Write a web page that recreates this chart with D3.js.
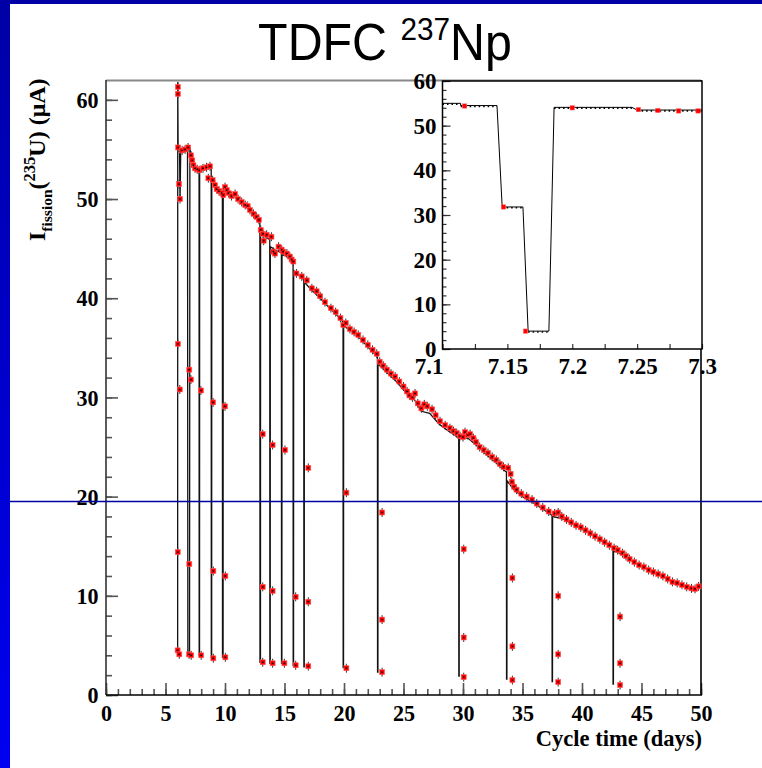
<!DOCTYPE html>
<html><head><meta charset="utf-8">
<script src="https://cdn.jsdelivr.net/npm/d3@7"></script>
<style>body{margin:0;background:#fff;} svg{display:block}</style>
</head><body>
<script>
// ---------- DATA ----------
const pointDays = [
 6.02,6.03,6.04,6.04,6.04,6.06,6.14,6.16,6.20,6.22,
 6.40,6.65,6.90,6.98,7.00,7.00,7.14,7.14,7.16,7.25,
 7.35,7.48,7.67,7.85,7.98,8.00,8.15,8.45,8.60,8.74,
 8.96,9.00,9.02,9.02,9.15,9.30,9.50,9.72,9.86,10.00,
 10.00,10.03,10.03,10.15,10.30,10.55,10.85,11.10,11.40,11.70,
 11.90,12.10,12.40,12.65,12.85,13.00,13.17,13.17,13.17,13.20,
 13.25,13.50,13.90,14.00,14.00,14.00,14.06,14.20,14.50,14.76,
 14.90,14.99,15.04,15.20,15.45,15.60,15.74,15.94,15.94,16.00,
 16.45,16.87,17.00,17.00,17.00,17.30,17.70,18.00,18.40,18.90,
 19.30,19.70,19.95,20.15,20.20,20.20,20.50,20.85,21.20,21.60,
 22.00,22.40,22.75,23.00,23.20,23.20,23.20,23.30,23.60,23.95,
 24.30,24.65,25.00,25.30,25.50,25.75,25.97,26.20,26.50,26.75,
 27.00,27.40,27.70,28.07,28.50,28.90,29.20,29.47,29.75,30.00,
 30.06,30.06,30.06,30.17,30.40,30.60,30.87,31.10,31.40,31.75,
 32.10,32.45,32.80,33.10,33.40,33.80,34.00,34.10,34.15,34.15,
 34.15,34.30,34.50,34.90,35.35,35.80,36.20,36.70,37.20,37.70,
 38.00,38.00,38.00,38.00,38.30,38.70,39.10,39.50,39.90,40.30,
 40.70,41.10,41.50,41.90,42.30,42.70,43.00,43.20,43.20,43.20,
 43.40,43.70,44.00,44.40,44.80,45.20,45.60,46.00,46.40,46.80,
 47.20,47.60,48.00,48.40,48.80,49.20,49.50,49.80
];
const pointValues = [
 4.5,14.4,35.4,60.6,61.3,55.2,51.5,4.1,30.8,50.0,
 54.9,55.0,55.2,4.1,13.2,32.8,31.8,54.4,4.0,53.9,
 53.4,53.1,53.0,52.9,30.7,4.0,53.1,53.2,52.1,53.3,
 51.9,29.5,12.5,3.7,51.4,51.0,50.8,50.6,50.4,51.2,
 29.1,12.0,3.8,50.9,50.6,50.3,50.5,50.0,49.7,49.4,
 49.3,48.9,48.5,48.2,47.9,46.9,26.3,10.9,3.3,46.5,
 45.8,46.4,46.2,25.2,10.5,3.2,44.7,44.5,45.2,44.9,
 44.7,3.2,24.7,44.5,44.2,43.9,43.7,9.9,3.0,42.5,
 42.2,41.8,22.9,9.4,2.9,41.0,40.7,40.2,39.6,39.0,
 38.6,38.0,37.3,37.5,20.4,2.7,36.9,36.6,36.3,35.8,
 35.3,34.8,34.4,33.6,18.4,7.6,2.3,33.2,32.8,32.4,
 32.1,31.6,31.1,30.6,30.2,30.0,30.4,29.4,28.9,29.3,
 29.1,28.8,28.2,27.6,27.2,26.9,26.6,26.4,26.1,26.0,
 14.7,5.8,1.8,26.5,26.2,26.3,25.9,25.5,25.0,24.7,
 24.4,24.0,23.7,23.3,23.0,22.9,22.3,21.5,11.8,4.9,
 1.5,21.0,20.7,20.3,20.0,19.7,19.3,18.9,18.5,18.3,
 18.4,10.0,4.1,1.3,18.0,17.7,17.4,17.1,16.9,16.6,
 16.3,16.0,15.7,15.4,15.1,14.8,14.6,7.9,3.2,1.0,
 14.3,14.0,13.7,13.4,13.1,12.9,12.6,12.4,12.2,12.0,
 11.7,11.4,11.3,11.1,10.9,10.75,10.7,10.95
];
const lineDays = [
 6.02,6.03,6.06,6.18,6.22,6.28,6.50,6.85,6.88,7.02,
 7.05,7.15,7.35,7.70,7.82,7.83,7.86,7.87,8.30,8.70,
 8.84,8.85,8.88,8.89,9.20,9.50,9.78,9.79,9.84,9.85,
 10.30,10.80,11.30,11.80,12.30,12.70,12.93,12.94,12.98,12.99,
 13.40,13.76,13.77,13.80,13.81,14.30,14.74,14.75,14.78,14.79,
 15.30,15.72,15.73,15.76,15.77,16.20,16.62,16.63,16.66,16.67,
 17.30,18.00,18.70,19.40,19.92,19.93,19.96,19.97,20.60,21.30,
 22.00,22.81,22.82,22.85,22.86,23.60,24.40,25.20,25.90,26.50,
 27.20,28.00,28.80,29.64,29.65,29.68,29.69,30.40,31.20,32.00,
 32.80,33.50,33.65,33.66,33.69,33.70,34.20,35.00,36.00,37.00,
 37.48,37.49,37.52,37.53,38.50,39.50,40.50,41.50,42.60,42.61,
 42.64,42.65,43.50,44.50,45.50,46.50,47.50,48.50,49.30,49.80
];
const lineValues = [
 4.5,61.8,55.3,55.0,49.8,54.8,54.9,55.1,4.1,4.0,
 55.2,54.4,53.3,52.9,52.9,4.0,4.0,52.8,53.0,53.2,
 53.1,3.8,3.8,51.9,51.2,50.7,50.5,3.8,3.8,51.0,
 50.5,50.3,49.7,49.2,48.5,48.0,47.6,3.3,3.3,46.7,
 46.2,45.9,3.2,3.2,45.2,44.8,44.6,3.2,3.2,44.4,
 44.2,43.6,3.0,3.0,42.8,42.3,41.9,2.85,2.85,41.6,
 40.8,40.0,39.1,38.3,37.6,2.75,2.75,37.2,36.7,36.0,
 35.1,34.1,2.3,2.3,33.4,32.5,31.6,30.5,29.8,28.6,
 28.4,27.3,26.6,25.9,1.9,1.9,25.9,25.9,25.1,24.2,
 23.4,22.6,22.5,1.6,1.6,21.6,20.8,20.0,19.3,18.5,
 18.1,1.35,1.35,18.0,17.7,17.0,16.4,15.6,14.8,1.1,
 1.1,14.6,14.1,13.3,12.7,12.1,11.5,11.0,10.7,10.9
];
// inset (zoom on 7.1 - 7.3 days)
const insetLineDays   = [7.100,7.114,7.114,7.142,7.146,7.162,7.166,7.182,7.186,7.246,7.250,7.300];
const insetLineValues = [55.0,55.0,54.5,54.5,31.8,31.8,4.0,4.0,54.1,54.1,53.5,53.5];
const insetDotStart = [7.100,7.114,7.146,7.166,7.186,7.250];
const insetDotEnd   = [7.114,7.142,7.162,7.182,7.246,7.300];
const insetDotValue = [55.0,54.5,31.8,4.0,54.1,53.5];
const insetPointDays   = [7.117,7.147,7.164,7.200,7.251,7.266,7.282,7.297];
const insetPointValues = [54.4,31.8,4.0,54.0,53.6,53.4,53.3,53.3];
// ticks / labels
const xTickValues = [0,5,10,15,20,25,30,35,40,45,50];
const yTickValues = [0,10,20,30,40,50,60];
const insetXTickValues = [7.1,7.15,7.2,7.25,7.3];
const insetXTickLabels = ["7.1","7.15","7.2","7.25","7.3"];
const insetYTickValues = [0,10,20,30,40,50,60];
const titleMain = "TDFC ", titleSup = "237", titleEnd = "Np";
const xTitle = "Cycle time (days)";

// ---------- DRAW ----------
const W = 762, H = 768;
const serif = "'Liberation Serif','Times New Roman',serif";
const sans = "'Liberation Sans',Arial,Helvetica,sans-serif";
const svg = d3.select("body").append("svg").attr("width", W).attr("height", H);
const defs = svg.append("defs");
const grad = defs.append("linearGradient").attr("id","lb").attr("x1",0).attr("y1",0).attr("x2",0).attr("y2",1);
grad.append("stop").attr("offset","0%").attr("stop-color","#0000a6");
grad.append("stop").attr("offset","100%").attr("stop-color","#0000f2");
svg.append("rect").attr("x",0).attr("y",0).attr("width",W).attr("height",H).attr("fill","#fff");
svg.append("rect").attr("x",0).attr("y",0).attr("width",10).attr("height",H).attr("fill","url(#lb)");
svg.append("rect").attr("x",0).attr("y",0).attr("width",W).attr("height",4).attr("fill","#0000a6");

// title
const t = svg.append("text").attr("transform","translate(385,60) scale(0.93,1)")
  .attr("text-anchor","middle").attr("font-family",sans).attr("font-size",52).attr("fill","#000");
t.append("tspan").text(titleMain);
t.append("tspan").attr("font-size",32).attr("dy",-20).text(titleSup);
t.append("tspan").attr("font-size",52).attr("dy",20).text(titleEnd);

// main scales
const x = d3.scaleLinear().domain([0,50]).range([106,701]);
const y = d3.scaleLinear().domain([0,62]).range([695,80]);

function styleAxis(g, labelSize){
  g.select(".domain").remove();
  g.selectAll(".tick line").attr("stroke","#555").attr("stroke-width",1.6);
  g.selectAll(".tick text").attr("font-family",serif).attr("font-weight","bold")
    .attr("font-size",labelSize).attr("fill","#000");
}
// minor ticks
const gxm = svg.append("g").attr("transform","translate(0,695)")
  .call(d3.axisBottom(x).tickValues(d3.range(0,51,1)).tickSize(-6).tickFormat(""));
styleAxis(gxm,21);
const gx = svg.append("g").attr("transform","translate(0,695)")
  .call(d3.axisBottom(x).tickValues(xTickValues).tickSize(-12).tickPadding(9).tickFormat(d3.format("d")));
styleAxis(gx,24);
gx.selectAll(".tick text").attr("transform","scale(0.92,1)");
const gym = svg.append("g").attr("transform","translate(106,0)")
  .call(d3.axisLeft(y).tickValues(d3.range(0,62,2)).tickSize(-6).tickFormat(""));
styleAxis(gym,21);
const gy = svg.append("g").attr("transform","translate(106,0)")
  .call(d3.axisLeft(y).tickValues(yTickValues).tickSize(-12).tickPadding(8).tickFormat(d3.format("d")));
styleAxis(gy,24);
gy.selectAll(".tick text").attr("transform","scale(0.92,1)");

// frame
svg.append("line").attr("x1",106).attr("x2",701).attr("y1",80.5).attr("y2",80.5).attr("stroke","#888").attr("stroke-width",2);
svg.append("line").attr("x1",106).attr("x2",106).attr("y1",80).attr("y2",695).attr("stroke","#333").attr("stroke-width",1.6);
svg.append("line").attr("x1",106).attr("x2",702).attr("y1",695).attr("y2",695).attr("stroke","#000").attr("stroke-width",1.6);
svg.append("line").attr("x1",701).attr("x2",701).attr("y1",80).attr("y2",695).attr("stroke","#000").attr("stroke-width",1.6);

// main line
const lineData = lineDays.map((d,i)=>[d,lineValues[i]]);
svg.append("path").datum(lineData)
  .attr("d", d3.line().x(d=>x(d[0])).y(d=>y(d[1])))
  .attr("fill","none").attr("stroke","#111").attr("stroke-width",1.3);

// main points with error bars
const pts = pointDays.map((d,i)=>[d,pointValues[i]]);
const pg = svg.append("g");
pg.selectAll("line.err").data(pts).join("line").attr("class","err")
  .attr("x1",d=>x(d[0])).attr("x2",d=>x(d[0]))
  .attr("y1",d=>y(d[1]+0.45)).attr("y2",d=>y(d[1]-0.45))
  .attr("stroke","#333").attr("stroke-width",1);
pg.selectAll("rect.m").data(pts).join("rect").attr("class","m")
  .attr("x",d=>x(d[0])-2.5).attr("y",d=>y(d[1])-2.5).attr("width",5).attr("height",5)
  .attr("fill","#ff0000").attr("stroke","#ff6060").attr("stroke-width",0.6);
pg.selectAll("rect.c").data(pts).join("rect").attr("class","c")
  .attr("x",d=>x(d[0])-0.75).attr("y",d=>y(d[1])-0.75).attr("width",1.5).attr("height",1.5)
  .attr("fill","#000");

// axis titles
svg.append("text").attr("x",702).attr("y",746).attr("text-anchor","end")
  .attr("font-family",serif).attr("font-weight","bold").attr("font-size",22.5).text(xTitle);
const yt = svg.append("text").attr("transform","translate(45,241) rotate(-90)")
  .attr("font-family",serif).attr("font-weight","bold").attr("font-size",24).attr("fill","#000");
yt.append("tspan").text("I");
yt.append("tspan").attr("font-size",15.5).attr("dy",7).text("fission");
yt.append("tspan").attr("font-size",24).attr("dy",-7).text("(");
yt.append("tspan").attr("font-size",16.5).attr("dy",-10).text("235");
yt.append("tspan").attr("font-size",24).attr("dy",10).text("U) (\u03bcA)");

// ---------- INSET ----------
const xi = d3.scaleLinear().domain([7.1,7.3]).range([442.5,702]);
const yi = d3.scaleLinear().domain([0,60]).range([349,81]);
svg.append("rect").attr("x",442.5).attr("y",81).attr("width",259.5).attr("height",268).attr("fill","#fff");
const gixm = svg.append("g").attr("transform","translate(0,349)")
  .call(d3.axisBottom(xi).tickValues([7.1,7.125,7.15,7.175,7.2,7.225,7.25,7.275,7.3]).tickSize(-5).tickFormat(""));
styleAxis(gixm,20);
gixm.selectAll(".tick line").attr("stroke","#333").attr("stroke-width",1.2);
const giym = svg.append("g").attr("transform","translate(442.5,0)")
  .call(d3.axisLeft(yi).tickValues(d3.range(0,61,2)).tickSize(-4).tickFormat(""));
styleAxis(giym,20);
giym.selectAll(".tick line").attr("stroke","#333").attr("stroke-width",1.2);
const gix = svg.append("g").attr("transform","translate(0,349)")
  .call(d3.axisBottom(xi).tickValues(insetXTickValues).tickSize(0).tickPadding(9)
    .tickFormat((d,i)=>insetXTickLabels[i]));
styleAxis(gix,23);
gix.selectAll(".tick text").attr("dx",(d,i)=>i===0?-14:0);
const giy = svg.append("g").attr("transform","translate(442.5,0)")
  .call(d3.axisLeft(yi).tickValues(insetYTickValues).tickSize(-8).tickPadding(6).tickFormat(d3.format("d")));
styleAxis(giy,23);
giy.selectAll(".tick line").attr("stroke","#333").attr("stroke-width",1.2);

// inset step line
const iLine = insetLineDays.map((d,i)=>[d,insetLineValues[i]]);
svg.append("path").datum(iLine).attr("d", d3.line().x(d=>xi(d[0])).y(d=>yi(d[1])))
  .attr("fill","none").attr("stroke","#000").attr("stroke-width",1);
// dotted segments
svg.append("g").selectAll("line").data(insetDotStart).join("line")
  .attr("x1",d=>xi(d)).attr("x2",(d,i)=>xi(insetDotEnd[i]))
  .attr("y1",(d,i)=>yi(insetDotValue[i])+0.8).attr("y2",(d,i)=>yi(insetDotValue[i])+0.8)
  .attr("stroke","#000").attr("stroke-width",1.6).attr("stroke-dasharray","1.5,3");
// inset points
const iPts = insetPointDays.map((d,i)=>[d,insetPointValues[i]]);
svg.append("g").selectAll("rect").data(iPts).join("rect")
  .attr("x",d=>xi(d[0])-2.2).attr("y",d=>yi(d[1])-2.2).attr("width",4.4).attr("height",4.4)
  .attr("fill","#ff0000").attr("stroke","#ff7070").attr("stroke-width",0.5);
// inset frame
svg.append("rect").attr("x",442.5).attr("y",81).attr("width",259.5).attr("height",268)
  .attr("fill","none").attr("stroke","#000").attr("stroke-width",1.5);

// horizontal blue rule across the slide
svg.append("line").attr("x1",10).attr("x2",W).attr("y1",501.5).attr("y2",501.5)
  .attr("stroke","#0000a0").attr("stroke-width",1.5);
</script>
</body></html>
